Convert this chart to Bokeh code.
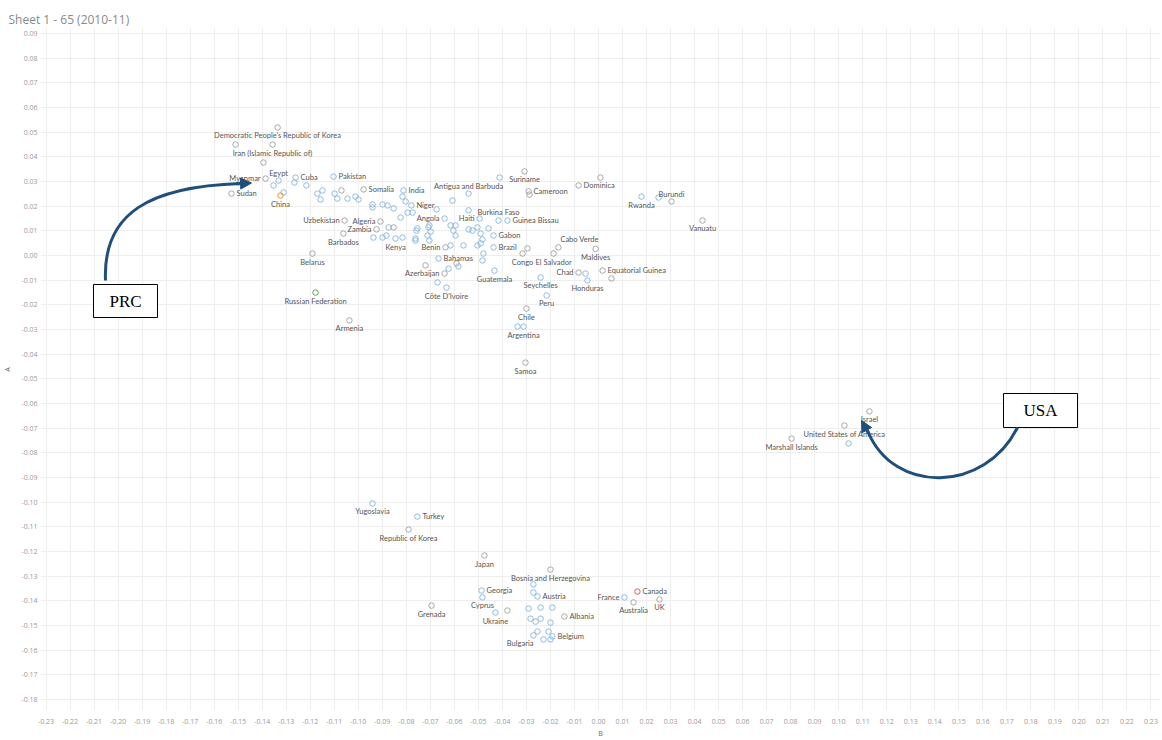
from bokeh.plotting import figure
from bokeh.models import ColumnDataSource, FixedTicker, NumeralTickFormatter, Arrow, NormalHead
from bokeh.embed import file_html
from bokeh.resources import INLINE
from bokeh.core.properties import value

# ---------------- data (B = x, A = y) ----------------
NAMES = ["Democratic People's Republic of Korea", "Iran (Islamic Republic of)", "Myanmar", "Egypt", "Sudan",
         "China", "Cuba", "Pakistan", "Somalia", "India", "Niger", "Algeria", "Uzbekistan", "Zambia",
         "Barbados", "Kenya", "Angola", "Haiti", "Burkina Faso", "Guinea Bissau", "Antigua and Barbuda",
         "Suriname", "Cameroon", "Dominica", "Rwanda", "Burundi", "Vanuatu", "Benin", "Bahamas",
         "Azerbaijan", "Côte D'Ivoire", "Gabon", "Brazil", "Guatemala", "Congo", "El Salvador",
         "Cabo Verde", "Maldives", "Chad", "Equatorial Guinea", "Honduras", "Seychelles", "Peru",
         "Chile", "Argentina", "Samoa", "Belarus", "Russian Federation", "Armenia", "Israel",
         "United States of America", "Marshall Islands", "Yugoslavia", "Turkey", "Republic of Korea",
         "Japan", "Bosnia and Herzegovina", "Georgia", "Austria", "Cyprus", "Ukraine", "Grenada",
         "Albania", "Belgium", "Bulgaria", "France", "Canada", "Australia", "UK"]
B_VAL = [-0.1336, -0.1357, -0.1386, -0.1332, -0.1528, -0.1324, -0.1261, -0.1103, -0.0978, -0.0812,
         -0.0779, -0.0908, -0.1057, -0.0924, -0.1062, -0.0845, -0.0641, -0.0495, -0.0416, -0.0379,
         -0.0541, -0.0308, -0.0291, -0.0083, 0.0179, 0.0304, 0.0433, -0.0637, -0.0666, -0.0641,
         -0.0633, -0.0437, -0.0437, -0.0433, -0.0316, -0.0187, -0.0167, -0.0012, -0.0083, 0.0017,
         -0.0046, -0.0241, -0.0216, -0.0300, -0.0312, -0.0304, -0.1191, -0.1178, -0.1037, 0.1128,
         0.1024, 0.0804, -0.0941, -0.0754, -0.0791, -0.0475, -0.0200, -0.0487, -0.0254, -0.0483,
         -0.0429, -0.0695, -0.0142, -0.0192, -0.0271, 0.0108, 0.0162, 0.0146, 0.0254]
A_VAL = [0.0519, 0.0450, 0.0312, 0.0304, 0.0251, 0.0243, 0.0316, 0.0320, 0.0268, 0.0264,
         0.0203, 0.0138, 0.0142, 0.0106, 0.0089, 0.0069, 0.0150, 0.0150, 0.0142, 0.0142,
         0.0251, 0.0341, 0.0260, 0.0284, 0.0239, 0.0219, 0.0142, 0.0033, -0.0012, -0.0073,
         -0.0130, 0.0081, 0.0033, -0.0061, 0.0008, 0.0008, 0.0033, 0.0027, -0.0069, -0.0061,
         -0.0101, -0.0089, -0.0162, -0.0215, -0.0288, -0.0434, 0.0008, -0.0150, -0.0263, -0.0632,
         -0.0689, -0.0742, -0.1005, -0.1058, -0.1111, -0.1216, -0.1273, -0.1358, -0.1382, -0.1386,
         -0.1447, -0.1419, -0.1463, -0.1544, -0.1540, -0.1386, -0.1362, -0.1406, -0.1394]
GROUP = ["gray", "gray", "gray", "blue", "gray", "orange", "blue", "blue", "gray", "blue",
         "blue", "gray", "gray", "gray", "gray", "blue", "blue", "blue", "blue", "blue",
         "blue", "gray", "gray", "gray", "blue", "gray", "gray", "gray", "blue", "gray",
         "blue", "blue", "blue", "blue", "gray", "gray", "gray", "gray", "gray", "gray",
         "blue", "blue", "blue", "gray", "blue", "gray", "gray", "green", "gray", "gray",
         "gray", "gray", "blue", "blue", "gray", "gray", "gray", "blue", "blue", "blue",
         "blue", "gray", "gray", "blue", "blue", "blue", "red", "gray", "gray"]
# label side: b=below, a=above, r=right, l=left, ar=above-right, bl=below-left
PLACE = ["b", "b", "l", "a", "r", "b", "r", "r", "r", "r", "r", "l", "l", "l", "b", "b", "l", "l",
         "a", "r", "a", "b", "r", "r", "b", "a", "b", "l", "r", "l", "b", "r", "r", "b", "b", "b",
         "ar", "b", "l", "r", "b", "b", "b", "b", "b", "b", "b", "b", "b", "b", "b", "b", "b", "r",
         "b", "b", "b", "r", "r", "b", "b", "b", "r", "r", "bl", "l", "r", "b", "b"]

# unlabeled countries
U_B = [-0.1511, -0.1395, 0.1041, -0.0337, 0.0250, 0.0008, -0.0412, -0.0287, -0.0054, 0.0054,
       -0.0296, -0.1266, -0.1353, -0.1311, -0.1216, -0.1170, -0.1149, -0.1157, -0.1099, -0.1070,
       -0.1087, -0.1045, -0.1012, -0.0999, -0.0941, -0.0941, -0.0899, -0.0878, -0.0853, -0.0816,
       -0.0803, -0.0824, -0.0795, -0.0774, -0.0754, -0.0704, -0.0699, -0.0674, -0.0874, -0.0853,
       -0.0937, -0.0899, -0.0883, -0.0816, -0.0762, -0.0712, -0.0608, -0.0541, -0.0758, -0.0708,
       -0.0762, -0.0704, -0.0616, -0.0595, -0.0604, -0.0595, -0.0541, -0.0525, -0.0504, -0.0491,
       -0.0483, -0.0458, -0.0491, -0.0562, -0.0479, -0.0483, -0.0583, -0.0624, -0.0591, -0.0670,
       -0.0720, -0.0616, -0.0504, -0.0271, -0.0271, -0.0291, -0.0241, -0.0192, -0.0283, -0.0262,
       -0.0241, -0.0200, -0.0254, -0.0208, -0.0229, -0.0200, -0.0379]
U_A = [0.0450, 0.0377, -0.0762, -0.0288, 0.0235, 0.0316, 0.0316, 0.0247, -0.0073, -0.0093,
       0.0029, 0.0296, 0.0284, 0.0256, 0.0284, 0.0251, 0.0264, 0.0227, 0.0251, 0.0264,
       0.0231, 0.0231, 0.0239, 0.0227, 0.0207, 0.0195, 0.0207, 0.0203, 0.0191, 0.0239,
       0.0219, 0.0154, 0.0174, 0.0174, 0.0110, 0.0122, 0.0097, 0.0187, 0.0114, 0.0114,
       0.0073, 0.0073, 0.0081, 0.0073, 0.0069, 0.0081, 0.0223, 0.0183, 0.0101, 0.0114,
       0.0061, 0.0061, 0.0122, 0.0122, 0.0101, 0.0081, 0.0106, 0.0101, 0.0114, 0.0089,
       0.0065, 0.0110, 0.0049, 0.0041, 0.0008, -0.0020, -0.0044, -0.0053, -0.0032, -0.0109,
       -0.0040, 0.0041, 0.0041, -0.1333, -0.1366, -0.1431, -0.1427, -0.1427, -0.1472, -0.1484,
       -0.1472, -0.1488, -0.1524, -0.1524, -0.1556, -0.1556, -0.1439]
U_GROUP = ["gray", "gray", "blue", "blue", "blue", "gray", "blue", "gray", "blue", "gray",
           "gray", "blue", "blue", "blue", "blue", "blue", "blue", "blue", "blue", "gray",
           "blue", "blue", "blue", "blue", "blue", "blue", "blue", "blue", "blue", "blue",
           "blue", "blue", "blue", "blue", "blue", "blue", "blue", "blue", "blue", "gray",
           "blue", "blue", "blue", "blue", "blue", "blue", "blue", "blue", "blue", "blue",
           "blue", "blue", "blue", "blue", "blue", "blue", "blue", "blue", "blue", "blue",
           "blue", "blue", "blue", "blue", "blue", "blue", "blue", "blue", "gray", "blue",
           "gray", "blue", "blue", "blue", "blue", "blue", "blue", "blue", "blue", "blue",
           "blue", "blue", "blue", "blue", "blue", "blue", "gray"]

X_TICKS = [round(-0.23 + 0.01 * i, 2) for i in range(47)]
Y_TICKS = [round(-0.18 + 0.01 * i, 2) for i in range(28)]

COLORS = {"blue": "#8dbbe3", "gray": "#a8a8a8", "orange": "#f28e2b", "red": "#e15759", "green": "#59a14f"}

# ---------------- figure ----------------
W, H = 1162, 740
L, R, T, Bm = 40, 1160, 28, 710
PX0, PXS = 598.0, 2402.0   # pixel of B=0, pixels per unit
PY0, PYS = 33.0, 2467.0    # pixel of A=0.09, pixels per unit

def bx(px):
    return (px - PX0) / PXS

def ay(py):
    return 0.09 - (py - PY0) / PYS

p = figure(width=W, height=H, x_range=(bx(L), bx(R)), y_range=(ay(Bm), ay(T)),
           output_backend="svg", toolbar_location=None,
           min_border_left=L, min_border_right=W - R, min_border_top=T, min_border_bottom=H - Bm)
p.outline_line_color = None
p.background_fill_color = "white"
p.border_fill_color = "white"

p.title.text = "Sheet 1 - 65 (2010-11)"
p.title.text_font = "Open Sans"
p.title.text_font_size = "12px"
p.title.text_font_style = "normal"
p.title.text_color = "#8a8a8a"
p.title.offset = 8 - L
p.title.standoff = 2

for ax in (p.xaxis[0], p.yaxis[0]):
    ax.axis_line_color = None
    ax.major_tick_line_color = None
    ax.minor_tick_line_color = None
    ax.major_tick_out = 0
    ax.major_tick_in = 0
    ax.minor_tick_out = 0
    ax.major_label_text_font = "Open Sans"
    ax.major_label_text_font_size = "7px"
    ax.major_label_text_color = "#9a9a9a"
    ax.formatter = NumeralTickFormatter(format="0.00")
    ax.axis_label_text_font = "Open Sans"
    ax.axis_label_text_font_size = "7px"
    ax.axis_label_text_font_style = "normal"
    ax.axis_label_text_color = "#666666"
p.xaxis[0].ticker = FixedTicker(ticks=X_TICKS)
p.yaxis[0].ticker = FixedTicker(ticks=Y_TICKS)
p.xaxis[0].axis_label = "B"
p.yaxis[0].axis_label = "A"
p.xaxis[0].major_label_standoff = 8
p.yaxis[0].major_label_standoff = 3
p.xaxis[0].axis_label_standoff = 2
p.yaxis[0].axis_label_standoff = 6
p.xgrid.ticker = FixedTicker(ticks=X_TICKS)
p.ygrid.ticker = FixedTicker(ticks=Y_TICKS)
p.xgrid.grid_line_color = "#eeeeee"
p.ygrid.grid_line_color = "#eeeeee"

# unlabeled points
us = ColumnDataSource(dict(x=U_B, y=U_A, c=[COLORS[g] for g in U_GROUP]))
p.scatter("x", "y", source=us, marker="circle", size=5.5, fill_color=None, line_color="c", line_width=1)

# labeled points
ls = ColumnDataSource(dict(x=B_VAL, y=A_VAL, c=[COLORS[g] for g in GROUP]))
p.scatter("x", "y", source=ls, marker="circle", size=5.5, fill_color=None, line_color="c", line_width=1)

STYLE = {
    "b": dict(text_align="center", text_baseline="top", x_offset=0, y_offset=4),
    "a": dict(text_align="center", text_baseline="bottom", x_offset=0, y_offset=-3),
    "r": dict(text_align="left", text_baseline="middle", x_offset=5, y_offset=0),
    "l": dict(text_align="right", text_baseline="middle", x_offset=-5, y_offset=0),
    "ar": dict(text_align="left", text_baseline="bottom", x_offset=2, y_offset=-3),
    "bl": dict(text_align="right", text_baseline="top", x_offset=0, y_offset=4),
}
for code, st in STYLE.items():
    idx = [i for i, pl in enumerate(PLACE) if pl == code]
    if not idx:
        continue
    src = ColumnDataSource(dict(x=[B_VAL[i] for i in idx], y=[A_VAL[i] for i in idx],
                                t=[NAMES[i] for i in idx]))
    p.text("x", "y", text="t", source=src, text_font=value("Lato"), text_font_size="7.5px",
           text_color="#555555", **st)

# ---------------- annotations ----------------
ARROW_C = "#1f4e79"
# PRC box + arrow
p.quad(left=bx(93), right=bx(157), top=ay(284), bottom=ay(317), fill_color="white",
       line_color="black", line_width=1)
p.text(x=[bx(125)], y=[ay(301)], text=["PRC"], text_font=value("Liberation Serif"),
       text_font_size="17px", text_color="black", text_align="center", text_baseline="middle")
p.bezier(x0=[bx(105)], y0=[ay(280)], x1=[bx(240)], y1=[ay(183)],
         cx0=[bx(102)], cy0=[ay(212)], cx1=[bx(150)], cy1=[ay(186)],
         line_color=ARROW_C, line_width=3)
p.add_layout(Arrow(end=NormalHead(size=11, fill_color=ARROW_C, line_color=ARROW_C),
                   x_start=bx(236), y_start=ay(183.3), x_end=bx(251), y_end=ay(182.5),
                   line_color=ARROW_C, line_width=3))

# USA box + arrow
p.quad(left=bx(1003), right=bx(1077), top=ay(393), bottom=ay(427), fill_color="white",
       line_color="black", line_width=1)
p.text(x=[bx(1040)], y=[ay(410)], text=["USA"], text_font=value("Liberation Serif"),
       text_font_size="17px", text_color="black", text_align="center", text_baseline="middle")
p.bezier(x0=[bx(1017)], y0=[ay(427)], x1=[bx(867)], y1=[ay(430)],
         cx0=[bx(985)], cy0=[ay(492)], cx1=[bx(893)], cy1=[ay(495)],
         line_color=ARROW_C, line_width=3)
p.add_layout(Arrow(end=NormalHead(size=11, fill_color=ARROW_C, line_color=ARROW_C),
                   x_start=bx(868), y_start=ay(433), x_end=bx(861), y_end=ay(420),
                   line_color=ARROW_C, line_width=3))

open("out.html", "w").write(file_html(p, INLINE))
